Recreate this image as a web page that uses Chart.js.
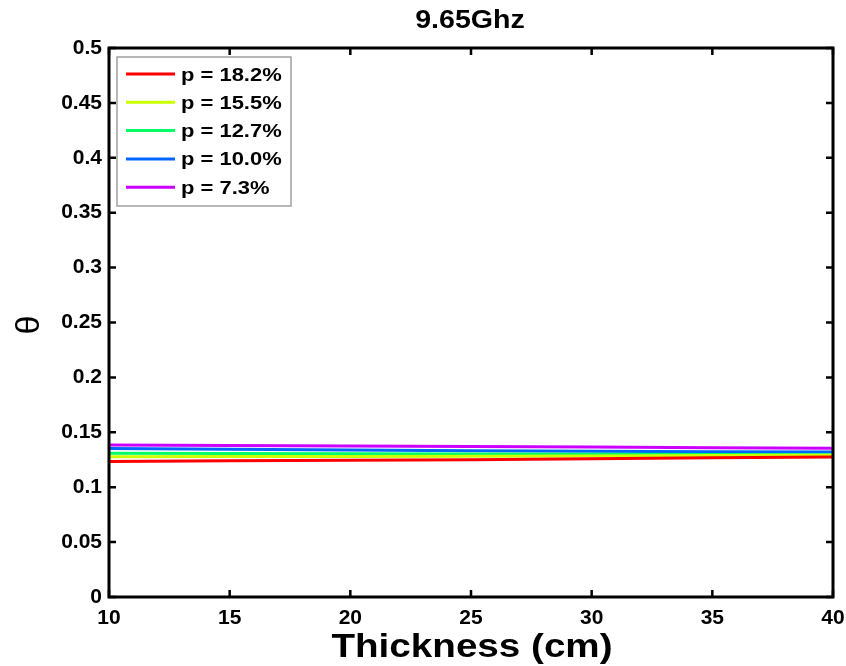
<!DOCTYPE html>
<html><head><meta charset="utf-8">
<script src="https://cdn.jsdelivr.net/npm/chart.js@4/dist/chart.umd.min.js"></script>
<style>html,body{margin:0;padding:0;background:#fff}#wrap{width:846px;height:666px}</style>
</head><body><div id="wrap"><canvas id="c" width="846" height="666"></canvas></div>
<script>
// ---- data ----
const thickness = [10, 15, 20, 25, 30, 35, 40];
const seriesLabels = ['p = 18.2%', 'p = 15.5%', 'p = 12.7%', 'p = 10.0%', 'p = 7.3%'];
const seriesColors = ['#ff0000', '#ccff00', '#00ff66', '#0066ff', '#cc00ff'];
const p182 = [0.1235, 0.1240, 0.1245, 0.1250, 0.1260, 0.1268, 0.1275];
const p155 = [0.1278, 0.1280, 0.1280, 0.1282, 0.1285, 0.1288, 0.1290];
const p127 = [0.1310, 0.1308, 0.1305, 0.1302, 0.1300, 0.1298, 0.1296];
const p100 = [0.1352, 0.1345, 0.1338, 0.1332, 0.1327, 0.1323, 0.1320];
const p073 = [0.1385, 0.1380, 0.1375, 0.1370, 0.1365, 0.1360, 0.1355];
const seriesValues = [p182, p155, p127, p100, p073];
const xTicks = [10, 15, 20, 25, 30, 35, 40];
const yTicks = [0, 0.05, 0.1, 0.15, 0.2, 0.25, 0.3, 0.35, 0.4, 0.45, 0.5];
const chartTitle = '9.65Ghz';
const xTitle = 'Thickness (cm)';
const yTitle = 'θ';

const datasets = seriesLabels.map((lab, i) => ({
  label: lab,
  data: thickness.map((t, j) => ({x: t, y: seriesValues[i][j]})),
  borderColor: seriesColors[i],
  backgroundColor: seriesColors[i],
  borderWidth: 3,
  pointRadius: 0,
  tension: 0,
  fill: false
}));

function stretchedText(ctx, text, x, y, font, sx, align) {
  ctx.save();
  ctx.font = font;
  ctx.fillStyle = '#000';
  ctx.textBaseline = 'alphabetic';
  const w = ctx.measureText(text).width * sx;
  let left = x;
  if (align === 'center') left = x - w / 2;
  ctx.translate(left, y);
  ctx.scale(sx, 1);
  ctx.textAlign = 'left';
  ctx.fillText(text, 0, 0);
  ctx.restore();
}

const decor = {
  id: 'decor',
  afterDraw(chart) {
    const ctx = chart.ctx;
    const a = chart.chartArea;
    const xs = chart.scales.x, ys = chart.scales.y;
    ctx.save();
    // inward ticks
    ctx.strokeStyle = '#000';
    ctx.lineWidth = 2.5;
    const tl = 7;
    ctx.beginPath();
    xTicks.forEach(v => {
      const px = xs.getPixelForValue(v);
      ctx.moveTo(px, a.bottom); ctx.lineTo(px, a.bottom - tl);
      ctx.moveTo(px, a.top); ctx.lineTo(px, a.top + tl);
    });
    yTicks.forEach(v => {
      const py = ys.getPixelForValue(v);
      ctx.moveTo(a.left, py); ctx.lineTo(a.left + tl, py);
      ctx.moveTo(a.right, py); ctx.lineTo(a.right - tl, py);
    });
    ctx.stroke();
    // frame
    ctx.lineWidth = 3;
    ctx.strokeRect(a.left, a.top, a.right - a.left, a.bottom - a.top);
    // legend
    const lx = a.left + 8, ly = a.top + 9, lw = 174, lh = 149;
    ctx.fillStyle = '#fff';
    ctx.fillRect(lx, ly, lw, lh);
    ctx.strokeStyle = '#a0a0a0';
    ctx.lineWidth = 1.5;
    ctx.strokeRect(lx, ly, lw, lh);
    chart.data.datasets.forEach((ds, i) => {
      const ry = ly + 17 + i * 28.3;
      ctx.strokeStyle = ds.borderColor;
      ctx.lineWidth = 3;
      ctx.beginPath();
      ctx.moveTo(lx + 9, ry); ctx.lineTo(lx + 58, ry);
      ctx.stroke();
      stretchedText(ctx, ds.label, lx + 64, ry + 6.5, 'bold 18px "Liberation Sans", Arial, sans-serif', 1.22, 'left');
    });
    // title
    stretchedText(ctx, chartTitle, 470, 28, 'bold 26px "Liberation Sans", Arial, sans-serif', 1.1, 'center');
    // x title
    stretchedText(ctx, xTitle, 472, 657, 'bold 33px "Liberation Sans", Arial, sans-serif', 1.17, 'center');
    // y title (rotated)
    ctx.save();
    ctx.translate(30, 325);
    ctx.rotate(-Math.PI / 2);
    ctx.font = '34px "Liberation Sans", Arial, sans-serif';
    ctx.fillStyle = '#000';
    ctx.textAlign = 'center';
    ctx.textBaseline = 'middle';
    ctx.fillText(yTitle, 0, 0);
    ctx.restore();
    ctx.restore();
  }
};

new Chart(document.getElementById('c'), {
  type: 'line',
  data: {datasets},
  options: {
    responsive: false,
    animation: false,
    layout: {padding: {top: 48, right: 13, left: 0, bottom: 0}},
    plugins: {legend: {display: false}, title: {display: false}, tooltip: {enabled: false}},
    scales: {
      x: {
        type: 'linear', min: 10, max: 40,
        afterBuildTicks: s => { s.ticks = xTicks.map(v => ({value: v})); },
        afterFit: s => { s.height = 69; s.paddingLeft = 0; s.paddingRight = 0; },
        grid: {display: false, drawTicks: false},
        border: {display: false},
        ticks: {color: '#000', padding: 9, maxRotation: 0, autoSkip: false,
          font: {family: '"Liberation Sans", Arial, sans-serif', size: 21, weight: 'bold'},
          callback: v => String(v)}
      },
      y: {
        type: 'linear', min: 0, max: 0.5,
        afterBuildTicks: s => { s.ticks = yTicks.map(v => ({value: v})); },
        afterFit: s => { s.width = 109; s.paddingTop = 0; s.paddingBottom = 0; },
        grid: {display: false, drawTicks: false},
        border: {display: false},
        ticks: {color: '#000', padding: 7, autoSkip: false,
          font: {family: '"Liberation Sans", Arial, sans-serif', size: 21, weight: 'bold'},
          callback: v => String(Number(v.toFixed(2)))}
      }
    }
  },
  plugins: [decor]
});
</script>
</body></html>
